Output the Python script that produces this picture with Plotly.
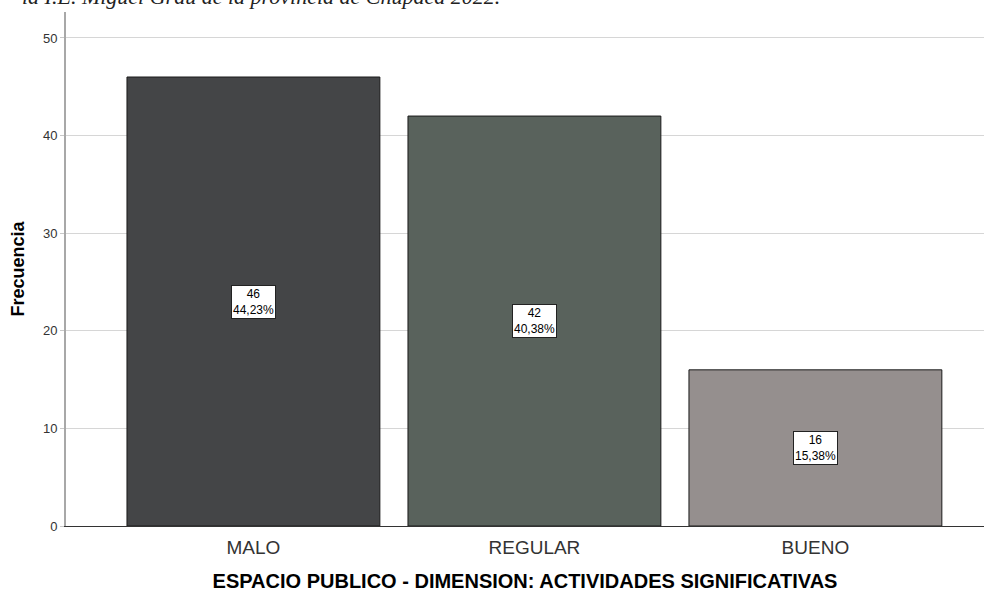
import plotly.graph_objects as go

categories = ["MALO", "REGULAR", "BUENO"]
counts = [46, 42, 16]
percents = ["44,23%", "40,38%", "15,38%"]
colors = ["#444547", "#59625c", "#958f8e"]
y_ticks = [0, 10, 20, 30, 40, 50]

fig = go.Figure()
fig.add_trace(go.Bar(
    x=categories, y=counts,
    marker=dict(color=colors, line=dict(color="#1a1a1a", width=1)),
    width=0.9, hoverinfo="skip",
))

for c, v, p in zip(categories, counts, percents):
    fig.add_annotation(
        x=c, y=v / 2, xref="x", yref="y",
        text=f"{v}<br>{p}", showarrow=False,
        font=dict(family="Arial, Liberation Sans", size=12, color="#000"),
        bgcolor="white", bordercolor="#222", borderwidth=1, borderpad=1,
        align="center",
    )

fig.add_annotation(
    x=0, xref="paper", xshift=-46, xanchor="left",
    y=1, yref="paper", yanchor="bottom", yshift=1,
    text="<i>la I.E. Miguel Grau de la provincia de Chupaca 2022.</i>",
    showarrow=False,
    font=dict(family="Liberation Serif, Times New Roman", size=22, color="#222"),
)

fig.update_layout(
    width=984, height=593,
    margin=dict(l=66, r=0, t=12, b=67),
    paper_bgcolor="white", plot_bgcolor="white",
    showlegend=False,
    font=dict(family="Arial, Liberation Sans", color="#333"),
    xaxis=dict(
        range=[-0.667, 2.6], showgrid=False, automargin=False,
        showline=True, linecolor="#333", linewidth=1,
        tickfont=dict(size=19, color="#333"), ticks="", ticklabelstandoff=4,
        title=dict(text="<b>ESPACIO PUBLICO - DIMENSION: ACTIVIDADES SIGNIFICATIVAS</b>",
                   font=dict(size=20, color="#000"), standoff=17),
    ),
    yaxis=dict(
        range=[0, 52.66], tickvals=y_ticks, automargin=False,
        showgrid=True, gridcolor="#d6d6d6", gridwidth=1,
        showline=True, linecolor="#a8a8a8", linewidth=2,
        ticks="outside", ticklen=4, tickcolor="#c8c8c8",
        tickfont=dict(size=13, color="#333"),
        zeroline=False,
        title=dict(text="<b>Frecuencia</b>", font=dict(size=18, color="#000"), standoff=14),
    ),
)

fig.write_html("out.html", config={"displayModeBar": False},
               post_script="document.body.style.margin='0';")
